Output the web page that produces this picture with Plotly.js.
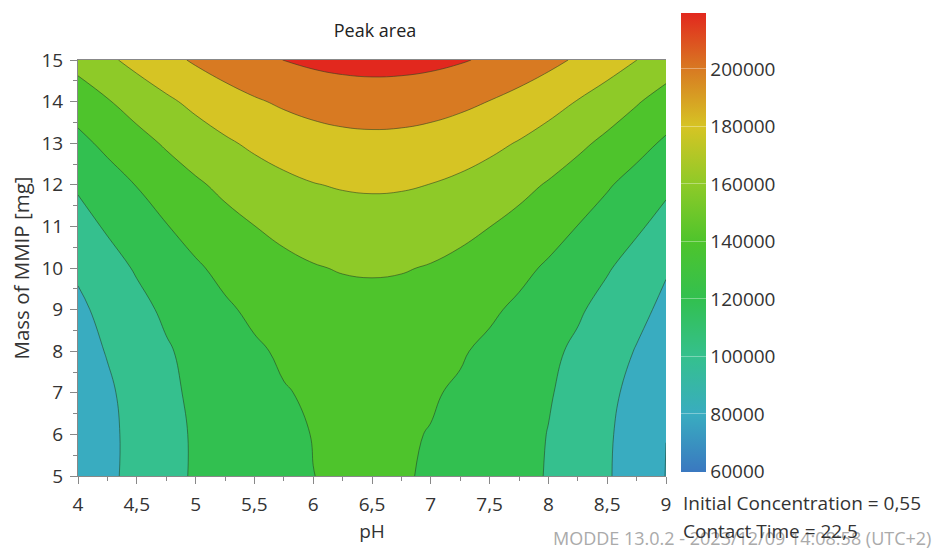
<!DOCTYPE html>
<html>
<head>
<meta charset="utf-8">
<script src="https://cdn.plot.ly/plotly-3.0.1.min.js"></script>
<style>
html,body{margin:0;padding:0;background:#fff;}
#chart{width:941px;height:560px;}
</style>
</head>
<body>
<div id="chart"></div>
<script>
// ---- data (Peak area response surface) ----
const pH = [4, 4.25, 4.5, 4.75, 5, 5.25, 5.5, 5.75, 6, 6.25, 6.5, 6.75, 7, 7.25, 7.5, 7.75, 8, 8.25, 8.5, 8.75, 9];
const massMg = [5, 6, 7, 8, 9, 10, 11, 12, 13, 14, 15];

const area_m5  = [65000, 76000, 85900, 94500, 102000, 108200, 113300, 117200, 119900, 121400, 121800, 120900, 118900, 115600, 111200, 105600, 98800, 90900, 81700, 71300, 59600];
const area_m6  = [64600, 75800, 85700, 94500, 102000, 108400, 113600, 117500, 120300, 121900, 122300, 121500, 119500, 116300, 111900, 106300, 99500, 91500, 82300, 71900, 60100];
const area_m7  = [65900, 77100, 87100, 95900, 103500, 109900, 115100, 119100, 121900, 123500, 124000, 123200, 121300, 118100, 113800, 108200, 101500, 93600, 84500, 74200, 62700];
const area_m8  = [72300, 81000, 89600, 98100, 105400, 112000, 117700, 122300, 125600, 127600, 128200, 127300, 125100, 121500, 116600, 110800, 104000, 96600, 87900, 79000, 70800];
const area_m9  = [76000, 85900, 94700, 103200, 110700, 117500, 123300, 128000, 131500, 133500, 134200, 133400, 131200, 127600, 122700, 116800, 110000, 102400, 93600, 84700, 76000];
const area_m10 = [83000, 93000, 101800, 110100, 117700, 124600, 130600, 135400, 138900, 141100, 141800, 141100, 138900, 135300, 130400, 124500, 117600, 109900, 101600, 92500, 81500];
const area_m11 = [93200, 102100, 110800, 119200, 126900, 133800, 139800, 144700, 148200, 150400, 151200, 150500, 148400, 144900, 140200, 134300, 127400, 119700, 111400, 102700, 93700];
const area_m12 = [102200, 111600, 120600, 129300, 137200, 144400, 150600, 155600, 159300, 161500, 162400, 161800, 159700, 156200, 151400, 145400, 138400, 130500, 121900, 112900, 103600];
const area_m13 = [114900, 124400, 133500, 142200, 150200, 157300, 163400, 168300, 172000, 174300, 175200, 174600, 172600, 169300, 164600, 158800, 151900, 144100, 135600, 126500, 117100];
const area_m14 = [128900, 138600, 147900, 156600, 164700, 171800, 177900, 182800, 186500, 188900, 189800, 189300, 187400, 184100, 179600, 173800, 167000, 159200, 150700, 141600, 132000];
const area_m15 = [146800, 156500, 165800, 174400, 182400, 189400, 195300, 200200, 203800, 206000, 207000, 206500, 204800, 201600, 197300, 191700, 185100, 177500, 169100, 160100, 150500];

const contourStart = 60000, contourEnd = 220000, contourStep = 20000;
const scaleMin = 60000, scaleMax = 219600;

const xTickVals = [4, 4.5, 5, 5.5, 6, 6.5, 7, 7.5, 8, 8.5, 9];
const xTickLabels = ['4', '4,5', '5', '5,5', '6', '6,5', '7', '7,5', '8', '8,5', '9'];
const xMinorVals = [4.25, 4.75, 5.25, 5.75, 6.25, 6.75, 7.25, 7.75, 8.25, 8.75];
const yTickVals = [5, 6, 7, 8, 9, 10, 11, 12, 13, 14, 15];
const yTickLabels = ['5', '6', '7', '8', '9', '10', '11', '12', '13', '14', '15'];
const yMinorVals = [5.5, 6.5, 7.5, 8.5, 9.5, 10.5, 11.5, 12.5, 13.5, 14.5];
const cbTickVals = [60000, 80000, 100000, 120000, 140000, 160000, 180000, 200000];
const cbTickLabels = ['60000', '80000', '100000', '120000', '140000', '160000', '180000', '200000'];

const titleText = 'Peak area';
const xTitle = 'pH';
const yTitle = 'Mass of MMIP [mg]';
const note1 = 'Initial Concentration = 0,55';
const note2 = 'Contact Time = 22,5';
const stamp = 'MODDE 13.0.2 - 2023/12/09 14:08:58 (UTC+2)';

// ---- styles ----
const bandColors = ['#39acc0', '#35c08e', '#32c050', '#4ec42c', '#8eca28', '#d6c424', '#d87a22', '#e2281e', '#e2281e'];
const barColors = ['#3a78c0', '#39acc0', '#35c08e', '#32c050', '#4ec42c', '#8eca28', '#d6c424', '#d87a22', '#e2281e'];
const barLevels = [60000, 80000, 100000, 120000, 140000, 160000, 180000, 200000, 219600];

// stepwise scale for filled bands (domain start-step/2 .. end+step/2)
const nLevels = Math.floor((contourEnd - contourStart) / contourStep) + 1;
const dMin = contourStart - contourStep / 2;
const dMax = contourStart + (nLevels - 0.5) * contourStep;
const fillScale = [];
fillScale.push([0, bandColors[0]]);
for (let k = 0; k < nLevels; k++) {
  const lo = (contourStart + k * contourStep - dMin) / (dMax - dMin);
  const hi = Math.min(1, (contourStart + (k + 1) * contourStep - dMin) / (dMax - dMin));
  fillScale.push([lo, bandColors[Math.min(k, bandColors.length - 1)]]);
  fillScale.push([hi, bandColors[Math.min(k, bandColors.length - 1)]]);
}
fillScale[fillScale.length - 1][0] = 1;

const barScale = barLevels.map((v, i) => [(v - scaleMin) / (scaleMax - scaleMin), barColors[i]]);

const zGrid = [area_m5, area_m6, area_m7, area_m8, area_m9, area_m10, area_m11, area_m12, area_m13, area_m14, area_m15];

const FONT = '"Open Sans", "Noto Sans", sans-serif';

const contourTrace = {
  type: 'contour',
  x: pH,
  y: massMg,
  z: zGrid,
  autocontour: false,
  contours: {start: contourStart, end: contourEnd, size: contourStep, coloring: 'fill', showlines: true},
  colorscale: fillScale,
  line: {color: 'rgba(35,60,35,0.55)', width: 1, smoothing: 1.2},
  showscale: false,
  hoverinfo: 'skip'
};

const barTrace = {
  type: 'scatter',
  mode: 'markers',
  x: [pH[0], pH[0]],
  y: [massMg[0], massMg[0]],
  hoverinfo: 'skip',
  showlegend: false,
  marker: {
    opacity: 0,
    size: 1,
    color: [scaleMin, scaleMax],
    cmin: scaleMin,
    cmax: scaleMax,
    colorscale: barScale,
    showscale: true,
    colorbar: {
      x: (681 - 78) / 588, xanchor: 'left', xref: 'paper',
      y: (476 - 242) / 416, yanchor: 'middle', yref: 'paper',
      len: 459, lenmode: 'pixels',
      thickness: 25, thicknessmode: 'pixels',
      outlinewidth: 0, xpad: 0, ypad: 0,
      tickmode: 'array', tickvals: cbTickVals, ticktext: cbTickLabels,
      ticks: 'inside', ticklen: 25, tickwidth: 1, tickcolor: 'rgba(255,255,255,0.35)',
      tickfont: {family: FONT, size: 19, color: '#333'}
    }
  }
};

const pxX = px => (px - 78) / 588;
const pxY = py => (476 - py) / 416;

const layout = {
  width: 941, height: 560,
  margin: {l: 78, r: 275, t: 60, b: 84, pad: 0},
  paper_bgcolor: '#fff', plot_bgcolor: '#fff',
  font: {family: FONT, color: '#333'},
  showlegend: false,
  title: {text: titleText, font: {family: FONT, size: 18, color: '#222'}, x: pxX(375), xref: 'paper', xanchor: 'center', y: 1 - 31 / 560, yref: 'container', yanchor: 'middle'},
  xaxis: {
    range: [4, 9], autorange: false, automargin: false,
    tickmode: 'array', tickvals: xTickVals, ticktext: xTickLabels,
    ticks: 'outside', ticklen: 7, tickwidth: 1, tickcolor: '#888',
    minor: {tickmode: 'array', tickvals: xMinorVals, ticks: 'outside', ticklen: 4, tickwidth: 1, tickcolor: '#888', showgrid: false},
    showline: true, linecolor: '#888', linewidth: 1, mirror: true,
    showgrid: false, zeroline: false,
    tickfont: {family: FONT, size: 19, color: '#333'},
    ticklabelstandoff: 4,
    title: {text: xTitle, font: {family: FONT, size: 19, color: '#333'}, standoff: 8}
  },
  yaxis: {
    range: [5, 15], autorange: false, automargin: false,
    tickmode: 'array', tickvals: yTickVals, ticktext: yTickLabels,
    ticks: 'outside', ticklen: 7, tickwidth: 1, tickcolor: '#888',
    minor: {tickmode: 'array', tickvals: yMinorVals, ticks: 'outside', ticklen: 4, tickwidth: 1, tickcolor: '#888', showgrid: false},
    showline: true, linecolor: '#888', linewidth: 1,
    showgrid: false, zeroline: false,
    tickfont: {family: FONT, size: 19, color: '#333'},
    ticklabelstandoff: 3,
    title: {text: yTitle, font: {family: FONT, size: 20.5, color: '#333'}, standoff: 6}
  },
  annotations: [
    {text: stamp, x: pxX(933), y: pxY(538), xref: 'paper', yref: 'paper', xanchor: 'right', yanchor: 'middle', showarrow: false, font: {family: FONT, size: 18, color: '#aaa'}},
    {text: note1, x: pxX(681), y: pxY(503), xref: 'paper', yref: 'paper', xanchor: 'left', yanchor: 'middle', showarrow: false, font: {family: FONT, size: 19, color: '#333'}},
    {text: note2, x: pxX(681), y: pxY(531), xref: 'paper', yref: 'paper', xanchor: 'left', yanchor: 'middle', showarrow: false, font: {family: FONT, size: 19, color: '#333'}}
  ]
};

Plotly.newPlot('chart', [contourTrace, barTrace], layout, {displayModeBar: false, staticPlot: true});
</script>
</body>
</html>
